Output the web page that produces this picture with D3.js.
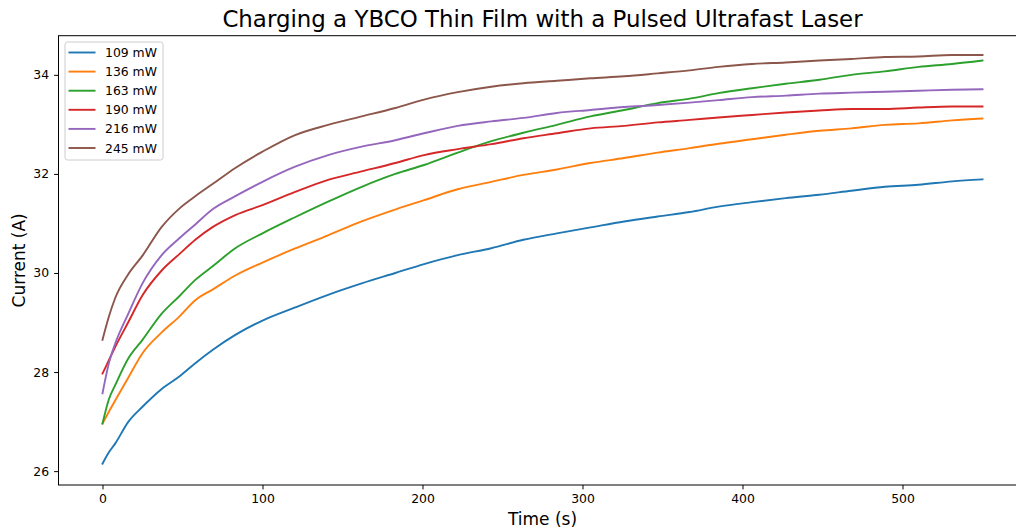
<!DOCTYPE html>
<html lang="en">
<head>
    <meta charset="UTF-8">
    <title>YBCO charging</title>
    <script src="https://cdn.jsdelivr.net/npm/d3@7"></script>
    <style>
        body{
            margin: 0;
            background-color: white;
            font-family: "DejaVu Sans", sans-serif;
        }
        .tick text{
            font-family: "DejaVu Sans", sans-serif;
            font-size: 12.4px;
            fill: #000;
        }
    </style>
</head>
<body>
<div id="chart"></div>
<script>
    var WIDTH = 1016;
    var HEIGHT = 531;

    // axes box in pixels (right spine falls just outside the picture)
    var LEFT = 58.5, RIGHT = 1026.5, TOP = 35.7, BOTTOM = 485;

    var TITLE = "Charging a YBCO Thin Film with a Pulsed Ultrafast Laser";
    var X_LABEL = "Time (s)";
    var Y_LABEL = "Current (A)";

    var X_TICKS = [0, 100, 200, 300, 400, 500];
    var Y_TICKS = [26, 28, 30, 32, 34];

    var SERIES_NAMES = ["109 mW", "136 mW", "163 mW", "190 mW", "216 mW", "245 mW"];
    var COLORS = ["#1f77b4", "#ff7f0e", "#2ca02c", "#d62728", "#9467bd", "#8c564b"];

    // time (s)
    var TIME = [0, 4, 8, 16, 25, 37, 48, 58, 69, 83, 100, 120, 141, 162, 183, 201, 222,
        243, 263, 284, 305, 326, 347, 367, 385, 406, 427, 448, 468, 489, 510, 531, 550];

    // current (A) for each laser power
    var I_109 = [26.15, 26.38, 26.56, 26.99, 27.30, 27.66, 27.91, 28.18, 28.45, 28.75, 29.04,
        29.30, 29.56, 29.79, 30.00, 30.18, 30.36, 30.50, 30.67, 30.80, 30.92, 31.04, 31.14,
        31.23, 31.34, 31.43, 31.51, 31.58, 31.66, 31.74, 31.78, 31.85, 31.89];
    var I_136 = [26.96, 27.20, 27.43, 27.88, 28.38, 28.80, 29.12, 29.45, 29.67, 29.95, 30.21,
        30.49, 30.76, 31.04, 31.28, 31.47, 31.69, 31.84, 31.98, 32.09, 32.22, 32.32, 32.43,
        32.52, 32.61, 32.70, 32.79, 32.87, 32.92, 32.99, 33.02, 33.08, 33.12];
    var I_163 = [26.96, 27.45, 27.74, 28.27, 28.65, 29.18, 29.53, 29.86, 30.14, 30.50, 30.80,
        31.12, 31.44, 31.74, 32.00, 32.18, 32.43, 32.66, 32.83, 32.99, 33.16, 33.29, 33.43,
        33.52, 33.63, 33.73, 33.82, 33.90, 34.00, 34.07, 34.16, 34.22, 34.29];
    var I_190 = [27.97, 28.24, 28.51, 29.00, 29.55, 30.05, 30.38, 30.67, 30.93, 31.17, 31.37,
        31.63, 31.88, 32.05, 32.22, 32.38, 32.50, 32.60, 32.72, 32.82, 32.92, 32.97, 33.04,
        33.09, 33.14, 33.19, 33.24, 33.28, 33.31, 33.31, 33.34, 33.36, 33.36];
    var I_216 = [27.57, 28.18, 28.58, 29.17, 29.79, 30.36, 30.70, 30.98, 31.29, 31.55, 31.84,
        32.14, 32.38, 32.55, 32.68, 32.82, 32.97, 33.06, 33.13, 33.23, 33.29, 33.35, 33.39,
        33.44, 33.49, 33.55, 33.58, 33.62, 33.64, 33.66, 33.68, 33.70, 33.71];
    var I_245 = [28.65, 29.12, 29.50, 29.97, 30.35, 30.93, 31.30, 31.55, 31.80, 32.12, 32.45,
        32.78, 32.99, 33.16, 33.33, 33.50, 33.65, 33.76, 33.83, 33.88, 33.93, 33.97, 34.03,
        34.09, 34.16, 34.22, 34.25, 34.29, 34.32, 34.36, 34.37, 34.40, 34.40];

    var CURRENTS = [I_109, I_136, I_163, I_190, I_216, I_245];

    var svg = d3.select("#chart").append("svg")
        .attr("width", WIDTH)
        .attr("height", HEIGHT)
        .style("display", "block");

    var x = d3.scaleLinear().domain([-27.5, 577.5]).range([LEFT, RIGHT]);
    var y = d3.scaleLinear().domain([25.72, 34.79]).range([BOTTOM, TOP]);

    var line = d3.line()
        .curve(d3.curveMonotoneX)
        .x(function(d){ return x(d[0]); })
        .y(function(d){ return y(d[1]); });

    CURRENTS.forEach(function(vals, i){
        svg.append("path")
            .datum(TIME.map(function(t, j){ return [t, vals[j]]; }))
            .attr("d", line)
            .attr("fill", "none")
            .attr("stroke", COLORS[i])
            .attr("stroke-width", 1.9)
            .attr("stroke-linejoin", "round")
            .attr("stroke-linecap", "square");
    });

    // axes
    var xAxis = svg.append("g")
        .attr("transform", "translate(0," + BOTTOM + ")")
        .call(d3.axisBottom(x).tickValues(X_TICKS).tickSize(4.4).tickPadding(5).tickSizeOuter(0));
    var yAxis = svg.append("g")
        .attr("transform", "translate(" + LEFT + ",0)")
        .call(d3.axisLeft(y).tickValues(Y_TICKS).tickSize(4.4).tickPadding(5).tickSizeOuter(0));

    [xAxis, yAxis].forEach(function(ax){
        ax.select(".domain").remove();
        ax.selectAll(".tick line").attr("stroke", "#000").attr("stroke-width", 1);
    });

    // spines
    svg.append("rect")
        .attr("x", LEFT)
        .attr("y", TOP)
        .attr("width", RIGHT - LEFT)
        .attr("height", BOTTOM - TOP)
        .attr("fill", "none")
        .attr("stroke", "#000")
        .attr("stroke-width", 1);

    // texts
    svg.append("text")
        .text(TITLE)
        .attr("x", (LEFT + RIGHT) / 2)
        .attr("y", 27)
        .attr("text-anchor", "middle")
        .style("font-size", "22.9px");

    svg.append("text")
        .text(X_LABEL)
        .attr("x", (LEFT + RIGHT) / 2)
        .attr("y", 525)
        .attr("text-anchor", "middle")
        .style("font-size", "17px");

    svg.append("text")
        .text(Y_LABEL)
        .attr("transform", "translate(24.5," + ((TOP + BOTTOM) / 2) + ") rotate(-90)")
        .attr("text-anchor", "middle")
        .style("font-size", "17px");

    // legend
    var legend = svg.append("g").attr("transform", "translate(65,42)");
    legend.append("rect")
        .attr("width", 98)
        .attr("height", 118)
        .attr("rx", 2.5)
        .attr("fill", "white")
        .attr("fill-opacity", 0.8)
        .attr("stroke", "#cccccc")
        .attr("stroke-width", 1);

    SERIES_NAMES.forEach(function(name, i){
        var row = legend.append("g").attr("transform", "translate(0," + (10.5 + i * 19.1) + ")");
        row.append("line")
            .attr("x1", 3.5).attr("x2", 30.5)
            .attr("stroke", COLORS[i])
            .attr("stroke-width", 1.9);
        row.append("text")
            .text(name)
            .attr("x", 40)
            .attr("y", 4.5)
            .style("font-size", "12.4px");
    });
</script>
</body>
</html>
